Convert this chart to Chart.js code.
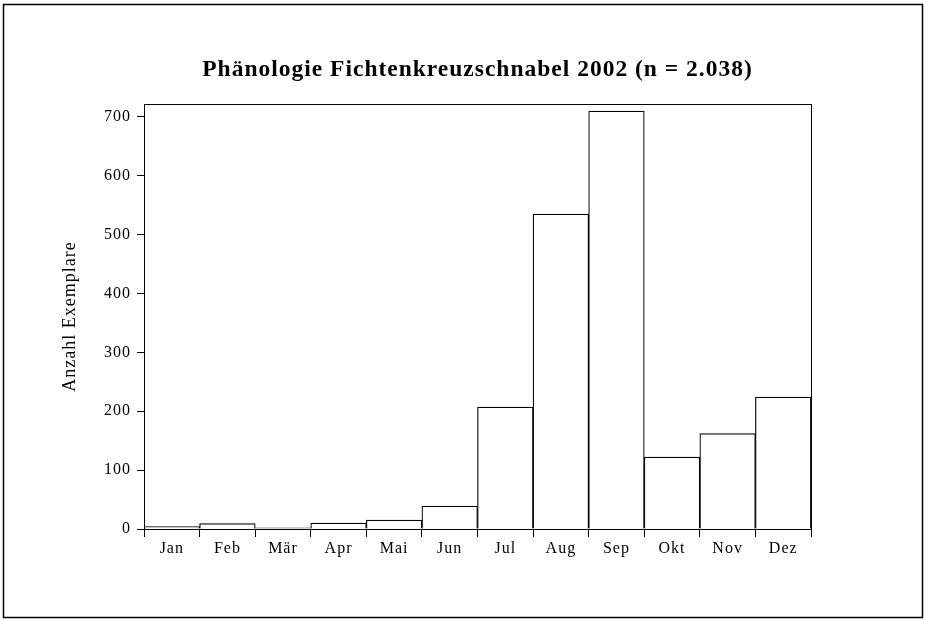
<!DOCTYPE html>
<html>
<head>
<meta charset="utf-8">
<script src="https://cdn.jsdelivr.net/npm/chart.js@4/dist/chart.umd.min.js"></script>
<style>
  html, body { margin: 0; padding: 0; background: #fff; }
  #wrap { position: relative; width: 926px; height: 620px; }
</style>
</head>
<body>
<div id="wrap"><canvas id="c" width="926" height="620"></canvas></div>
<script>
const months = ["Jan", "Feb", "Mär", "Apr", "Mai", "Jun", "Jul", "Aug", "Sep", "Okt", "Nov", "Dez"];
const counts = [4, 9, 2, 10, 15, 39, 207, 535, 710, 122, 162, 224];
const chartTitle = "Phänologie Fichtenkreuzschnabel 2002 (n = 2.038)";
const yAxisTitle = "Anzahl Exemplare";
const yMax = 722;
const yStep = 100;

const SERIF = "'Liberation Serif', 'Times New Roman', serif";

const framePlugin = {
  id: 'frame',
  beforeDraw(chart) {
    chart.ctx.letterSpacing = '1px';
  },
  afterDraw(chart) {
    const ctx = chart.ctx;
    const a = chart.chartArea;
    ctx.save();
    ctx.strokeStyle = '#000';
    ctx.lineWidth = 1;
    ctx.strokeRect(Math.round(a.left) + 0.5, Math.round(a.top) + 0.5,
                   Math.round(a.right - a.left), Math.round(a.bottom - a.top));
    ctx.lineWidth = 1.5;
    ctx.strokeRect(3.5, 4.5, 919, 613);
    ctx.restore();
  }
};

new Chart(document.getElementById('c'), {
  type: 'bar',
  data: {
    labels: months,
    datasets: [{
      data: counts,
      backgroundColor: '#ffffff',
      borderColor: '#000000',
      borderWidth: 1.2,
      categoryPercentage: 1.0,
      barPercentage: 1.0
    }]
  },
  options: {
    responsive: false,
    animation: false,
    layout: { padding: { left: 0, right: 115, top: 0, bottom: 0 } },
    plugins: {
      legend: { display: false },
      tooltip: { enabled: false },
      title: {
        display: true,
        fullSize: false,
        text: chartTitle,
        color: '#000',
        font: { family: SERIF, size: 23.5, weight: 'bold', lineHeight: 1.2 },
        padding: { top: 56, bottom: 19.8 }
      }
    },
    scales: {
      x: {
        afterFit(scale) { scale.height = 91; },
        grid: { display: true, drawOnChartArea: false, drawTicks: true, tickLength: 8, color: '#000', offset: true },
        border: { display: true, color: '#000', width: 1 },
        ticks: { color: '#000', font: { family: SERIF, size: 16 }, padding: 2, maxRotation: 0 }
      },
      y: {
        min: 0,
        max: yMax,
        afterFit(scale) { scale.width = 144; },
        grid: { display: true, drawOnChartArea: false, drawTicks: true, tickLength: 7, color: '#000' },
        border: { display: true, color: '#000', width: 1 },
        ticks: { stepSize: yStep, includeBounds: false, color: '#000', font: { family: SERIF, size: 16 }, padding: 6 },
        title: {
          display: true,
          text: yAxisTitle,
          color: '#000',
          font: { family: SERIF, size: 18 },
          padding: { top: 59, bottom: 0 }
        }
      }
    }
  },
  plugins: [framePlugin]
});
</script>
</body>
</html>
